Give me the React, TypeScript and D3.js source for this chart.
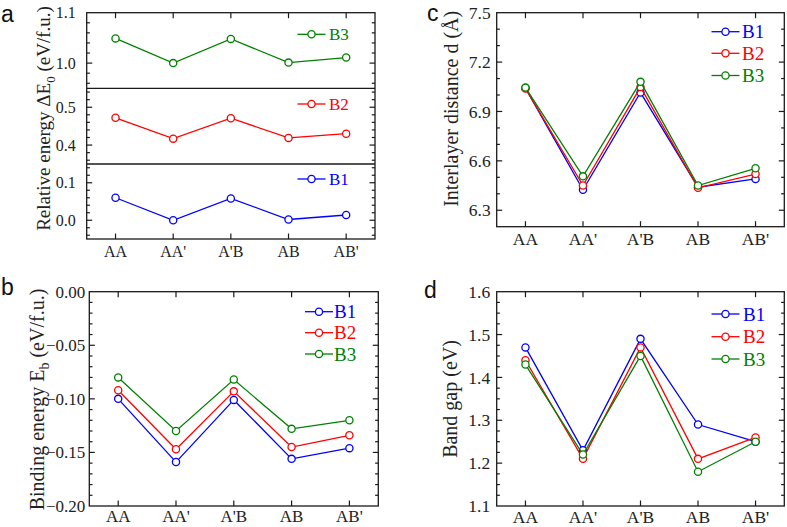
import React from "react";
import * as d3 from "d3";

const categories = ["AA", "AA'", "A'B", "AB", "AB'"];
const seriesNames = ["B1", "B2", "B3"];
const seriesColors = ["#0000FF", "#FF0000", "#008000"];

// Panel a: relative energy (stacked, one series per sub-panel)
const relB1 = [0.06, 0.0, 0.058, 0.002, 0.014];
const relB2 = [0.472, 0.417, 0.471, 0.419, 0.43];
const relB3 = [1.049, 1.0, 1.048, 1.001, 1.011];
// Panel b: binding energy
const bindB1 = [-0.1, -0.159, -0.101, -0.156, -0.146];
const bindB2 = [-0.092, -0.147, -0.093, -0.145, -0.134];
const bindB3 = [-0.08, -0.13, -0.082, -0.128, -0.12];
// Panel c: interlayer distance
const distB1 = [7.042, 6.424, 7.015, 6.44, 6.49];
const distB2 = [7.04, 6.45, 7.048, 6.436, 6.52];
const distB3 = [7.045, 6.506, 7.08, 6.45, 6.555];
// Panel d: band gap
const gapB1 = [1.47, 1.23, 1.49, 1.29, 1.25];
const gapB2 = [1.44, 1.21, 1.47, 1.21, 1.26];
const gapB3 = [1.43, 1.22, 1.45, 1.18, 1.25];

const ticksA3 = [1.0, 1.1];
const ticksA2 = [0.4, 0.5];
const ticksA1 = [0.0, 0.1];
const ticksB = [0.0, -0.05, -0.1, -0.15, -0.2];
const ticksC = [6.3, 6.6, 6.9, 7.2, 7.5];
const ticksD = [1.1, 1.2, 1.3, 1.4, 1.5, 1.6];

const SERIF = "'Liberation Serif', 'Times New Roman', serif";
const SANS = "'Liberation Sans', Arial, sans-serif";
const AXIS = "#1a1a1a";

type Box = { left: number; right: number; top: number; bottom: number };

function minorValues(domain: [number, number], step: number) {
  const out: number[] = [];
  const start = Math.ceil(domain[0] / step - 1e-6);
  const end = Math.floor(domain[1] / step + 1e-6);
  for (let i = start; i <= end; i++) out.push(+(i * step).toFixed(6));
  return out;
}

function YTicks({ y, box, majors, minorStep, fmt, labelGap, fontSize }: any) {
  const dom = y.domain() as [number, number];
  const lo = Math.min(dom[0], dom[1]);
  const hi = Math.max(dom[0], dom[1]);
  const minors = minorValues([lo, hi], minorStep);
  return (
    <g>
      {minors.map((v: number, i: number) => {
        const isMajor = majors.some((m: number) => Math.abs(m - v) < 1e-6);
        const len = isMajor ? 5.5 : 3.2;
        const py = y(v);
        if (py < box.top + 0.5 || py > box.bottom - 0.5) return null;
        return (
          <g key={i}>
            <line x1={box.left} x2={box.left + len} y1={py} y2={py} stroke={AXIS} strokeWidth={1.2} />
            <line x1={box.right} x2={box.right - len} y1={py} y2={py} stroke={AXIS} strokeWidth={1.2} />
          </g>
        );
      })}
      {majors.map((v: number, i: number) => (
        <text key={"l" + i} x={box.left - labelGap} y={y(v)} dy="0.35em" textAnchor="end"
          fontFamily={SERIF} fontSize={fontSize} fill="#222">{fmt(v)}</text>
      ))}
    </g>
  );
}

function XTicks({ x, box, labelY, fontSize }: any) {
  return (
    <g>
      {categories.map((c, i) => (
        <g key={i}>
          <line x1={x(i + 1)} x2={x(i + 1)} y1={box.bottom} y2={box.bottom - 5.5} stroke={AXIS} strokeWidth={1.2} />
          <line x1={x(i + 1)} x2={x(i + 1)} y1={box.top} y2={box.top + 5.5} stroke={AXIS} strokeWidth={1.2} />
          <text x={x(i + 1)} y={labelY} textAnchor="middle" fontFamily={SERIF} fontSize={fontSize} fill="#222">{c}</text>
        </g>
      ))}
    </g>
  );
}

function Series({ x, y, values, color }: any) {
  const line = d3.line<number>().x((_, i) => x(i + 1)).y((v) => y(v));
  return (
    <g>
      <path d={line(values) || ""} fill="none" stroke={color} strokeWidth={1.3} />
      {values.map((v: number, i: number) => (
        <circle key={i} cx={x(i + 1)} cy={y(v)} r={3.6} fill="white" stroke={color} strokeWidth={1.3} />
      ))}
    </g>
  );
}

function LegendItem({ cx, cy, name, color, textX, fontSize }: any) {
  return (
    <g>
      <line x1={cx - 14} x2={cx + 14} y1={cy} y2={cy} stroke={color} strokeWidth={1.3} />
      <circle cx={cx} cy={cy} r={3.6} fill="white" stroke={color} strokeWidth={1.3} />
      <text x={textX} y={cy} dy="0.35em" fontFamily={SERIF} fontSize={fontSize} fill={color}>{name}</text>
    </g>
  );
}

function Frame({ box }: { box: Box }) {
  return (
    <rect x={box.left} y={box.top} width={box.right - box.left} height={box.bottom - box.top}
      fill="none" stroke={AXIS} strokeWidth={1.3} />
  );
}

function PanelA() {
  const box: Box = { left: 86.7, right: 375, top: 12.7, bottom: 239 };
  const x = d3.scaleLinear().domain([0.5, 5.5]).range([box.left, box.right]);
  const s1 = 88.3, s2 = 164;
  const subs = [
    { y: d3.scaleLinear().domain([0.95, 1.1]).range([s1, box.top]), vals: relB3, ticks: ticksA3, idx: 2, sb: { ...box, bottom: s1 } },
    { y: d3.scaleLinear().domain([0.35, 0.55]).range([s2, s1]), vals: relB2, ticks: ticksA2, idx: 1, sb: { ...box, top: s1, bottom: s2 } },
    { y: d3.scaleLinear().domain([-0.05, 0.15]).range([box.bottom, s2]), vals: relB1, ticks: ticksA1, idx: 0, sb: { ...box, top: s2 } },
  ];
  const legendY = [179, 104, 34.3];
  return (
    <g>
      {subs.map((s, k) => (
        <g key={k}>
          <YTicks y={s.y} box={s.sb} majors={s.ticks} minorStep={0.02} fmt={d3.format(".1f")} labelGap={11} fontSize={16} />
          <Series x={x} y={s.y} values={s.vals} color={seriesColors[s.idx]} />
          <LegendItem cx={311.5} cy={legendY[s.idx]} name={seriesNames[s.idx]} color={seriesColors[s.idx]} textX={329} fontSize={17} />
        </g>
      ))}
      <line x1={box.left} x2={box.right} y1={s1} y2={s1} stroke={AXIS} strokeWidth={1.3} />
      <line x1={box.left} x2={box.right} y1={s2} y2={s2} stroke={AXIS} strokeWidth={1.3} />
      <XTicks x={x} box={box} labelY={257} fontSize={16} />
      <Frame box={box} />
      <text transform={`translate(50,118.5) rotate(-90)`} textAnchor="middle" fontFamily={SERIF} fontSize={19} fill="#222">
        Relative energy ΔE<tspan dy="5" fontSize={13}>0</tspan><tspan dy="-5"> (eV/f.u.)</tspan>
      </text>
      <text x={1} y={21.7} fontFamily={SANS} fontSize={23} fill="#111">a</text>
    </g>
  );
}

function StdPanel({ box, domain, majors, minorStep, fmt, data, legendCx, legendTextX, legendYs, labelGap, labelY, title, titleX, titleY, letter, letterX, letterY, fontSize }: any) {
  const x = d3.scaleLinear().domain([0.5, 5.5]).range([box.left, box.right]);
  const y = d3.scaleLinear().domain(domain).range([box.bottom, box.top]);
  return (
    <g>
      <YTicks y={y} box={box} majors={majors} minorStep={minorStep} fmt={fmt} labelGap={labelGap} fontSize={fontSize} />
      <XTicks x={x} box={box} labelY={labelY} fontSize={fontSize} />
      {data.map((vals: number[], k: number) => (
        <Series key={k} x={x} y={y} values={vals} color={seriesColors[k]} />
      ))}
      {seriesNames.map((n, k) => (
        <LegendItem key={n} cx={legendCx} cy={legendYs[k]} name={n} color={seriesColors[k]} textX={legendTextX} fontSize={19} />
      ))}
      <Frame box={box} />
      <text transform={`translate(${titleX},${titleY}) rotate(-90)`} textAnchor="middle" fontFamily={SERIF} fontSize={20} fill="#222">
        {title}
      </text>
      <text x={letterX} y={letterY} fontFamily={SANS} fontSize={23} fill="#111">{letter}</text>
    </g>
  );
}

export default function App() {
  return (
    <svg width={787} height={527} style={{ position: "absolute", left: 0, top: 0, background: "white" }}>
      <rect x={0} y={0} width={787} height={527} fill="white" />
      <PanelA />
      <StdPanel
        box={{ left: 89.3, right: 378.3, top: 291.7, bottom: 506 }}
        domain={[-0.2, 0]} majors={ticksB} minorStep={0.01} fmt={d3.format(".2f")}
        data={[bindB1, bindB2, bindB3]} legendCx={319} legendTextX={334} legendYs={[311.7, 332.7, 354]}
        labelGap={4} labelY={522} fontSize={17}
        title={<>Binding energy E<tspan dy="5" fontSize={14}>b</tspan><tspan dy="-5"> (eV/f.u.)</tspan></>}
        titleX={43.5} titleY={399.5} letter="b" letterX={1} letterY={295}
      />
      <StdPanel
        box={{ left: 496.7, right: 784.3, top: 12.7, bottom: 226.7 }}
        domain={[6.2, 7.5]} majors={ticksC} minorStep={0.1} fmt={d3.format(".1f")}
        data={[distB1, distB2, distB3]} legendCx={725.5} legendTextX={742} legendYs={[31.7, 53.3, 75.5]}
        labelGap={6} labelY={245} fontSize={17.5}
        title={"Interlayer distance d (Å)"}
        titleX={458} titleY={108.8} letter="c" letterX={427} letterY={20.7}
      />
      <StdPanel
        box={{ left: 496.7, right: 784.3, top: 291.7, bottom: 506 }}
        domain={[1.1, 1.6]} majors={ticksD} minorStep={0.025} fmt={d3.format(".1f")}
        data={[gapB1, gapB2, gapB3]} legendCx={725.5} legendTextX={743} legendYs={[314, 336.7, 359]}
        labelGap={6.5} labelY={523} fontSize={17.5}
        title={"Band gap (eV)"}
        titleX={457} titleY={399} letter="d" letterX={424} letterY={298}
      />
    </svg>
  );
}
